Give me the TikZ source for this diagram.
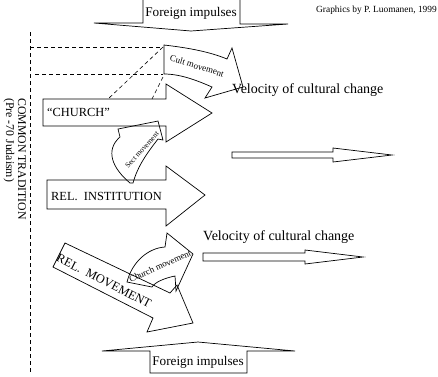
\documentclass[tikz,border=0pt]{standalone}
\usepackage{fontspec}
\setmainfont{Liberation Serif}
\begin{document}
\begin{tikzpicture}[x=1pt,y=-1pt,
  outl/.style={draw=black,line width=0.7pt,line join=miter},
  dsh/.style={draw=black,line width=0.6pt,dash pattern=on 4pt off 3pt},
  lbl/.style={font=\fontsize{12.4}{14}\selectfont,inner sep=0pt},
  big/.style={font=\fontsize{13.2}{15}\selectfont,inner sep=0pt},
  small/.style={font=\fontsize{9}{10}\selectfont,inner sep=0pt}]
\useasboundingbox (0,0) rectangle (438,376);
\clip (0,0) rectangle (438,376);
% dashed frame
\coordinate (v1) at (30,32); \coordinate (v2) at (30,372);
\draw[dsh] (v1) -- (v2);
\coordinate (h1a) at (30,47); \coordinate (h1b) at (163,47);
\coordinate (h2a) at (35,74); \coordinate (h2b) at (163,74);
\draw[dsh] (h1a) -- (h1b);
\draw[dsh] (h2a) -- (h2b);
\coordinate (d1a) at (108,99); \coordinate (d2a) at (163,77); \coordinate (d2b) at (152,99);
\draw[dsh] (h1b) -- (d1a);
\draw[dsh] (d2a) -- (d2b);
% side label
\node[font=\fontsize{11.8}{14}\selectfont,inner sep=0pt,rotate=-90,anchor=west] (ct) at (22,98) {COMMON TRADITION};
\node[font=\fontsize{11.8}{14}\selectfont,inner sep=0pt,rotate=-90,anchor=west] (pj) at (9,98) {(Pre -70 Judaism)};
% credit
\node[font=\fontsize{9.4}{11}\selectfont,inner sep=0pt,anchor=east] (cr) at (437,10) {Graphics by P. Luomanen, 1999};
% top foreign impulses
\draw[outl] (143,-2) -- (143,23) -- (94,23) -- (191,31) -- (288,24) -- (240,24) -- (240,-2);
\node[big] (fi1) at (191,13) {Foreign impulses};
% bottom foreign impulses
\draw[outl] (150,373) -- (150,351) -- (102,351) -- (198,342) -- (295,351) -- (247,351) -- (247,373) -- cycle;
\node[big] (fi2) at (198,362) {Foreign impulses};
% CHURCH arrow
\draw[outl] (43,99) -- (166,99) -- (166,84) -- (212,113) -- (166,142) -- (166,126) -- (43,126) -- cycle;
\node[lbl,anchor=west] (ch) at (47,112) {``CHURCH''};
% REL. INSTITUTION arrow
\draw[outl] (47,180) -- (166,180) -- (166,166) -- (205,195) -- (166,226) -- (166,209) -- (47,209) -- cycle;
\node[lbl,anchor=west] (ri) at (51,196) {REL.\ \ INSTITUTION};
% REL. MOVEMENT arrow
\draw[outl] (65,243) -- (170,293) -- (177,285) -- (193,323) -- (147,332) -- (153,318) -- (53,267) -- cycle;
\node[lbl,rotate=-27] (rm) at (104,281) {REL.\ \ MOVEMENT};
% cult movement
\draw[outl] (164,45) .. controls (190,48) and (210,52) .. (227,59) -- (232,48) -- (243,87) -- (205,98) -- (212,87) .. controls (196,80) and (180,74) .. (164,74) -- cycle;
\node[small,rotate=-17] (cm) at (197,66) {Cult movement};
% sect movement
\draw[outl] (130,183) .. controls (112,168) and (105,150) .. (120,137) -- (118,129) -- (158,121) -- (163,140) -- (158,139) .. controls (148,152) and (138,165) .. (133,183) -- cycle;
\node[font=\fontsize{7.5}{9}\selectfont,inner sep=0pt,rotate=48] (sm) at (142,150) {Sect movement};
% church movement
\draw[outl] (127,282) .. controls (132,262) and (148,248) .. (165,247) -- (167,233) -- (193,254) -- (176,291) -- (175,276) .. controls (165,278) and (155,282) .. (152,287) -- cycle;
\node[small,rotate=24] (chm) at (160,266) {Church movement};
% velocity arrows
\node[font=\fontsize{14}{16}\selectfont,inner sep=0pt,anchor=west] (v1t) at (232,90) {Velocity of cultural change};
\draw[outl] (232,152) -- (333,152) -- (333,148) -- (392,155) -- (333,162) -- (333,158) -- (232,158) -- cycle;
\node[font=\fontsize{14}{16}\selectfont,inner sep=0pt,anchor=west] (v2t) at (203,237) {Velocity of cultural change};
\draw[outl] (203,253) -- (305,253) -- (305,250) -- (363,257) -- (305,264) -- (305,261) -- (203,261) -- cycle;
\end{tikzpicture}
\end{document}
